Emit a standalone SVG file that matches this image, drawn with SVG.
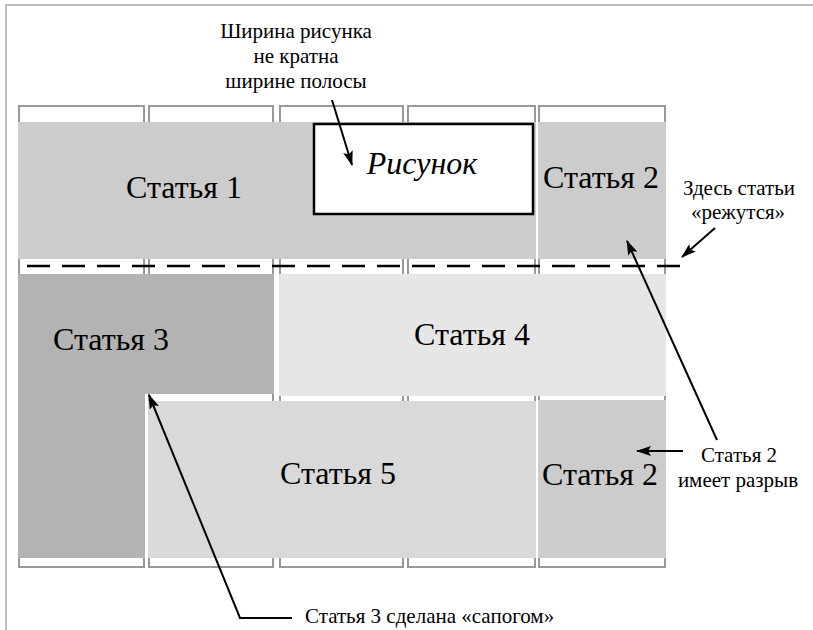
<svg xmlns="http://www.w3.org/2000/svg" width="813" height="630" viewBox="0 0 813 630">
<defs>
<marker id="arr" markerUnits="userSpaceOnUse" markerWidth="15" markerHeight="10" refX="14" refY="5" orient="auto">
<path d="M0,0 L15,5 L0,10 L3,5 Z" fill="#000"/>
</marker>
<style>
.col{fill:#fff;stroke:#999;stroke-width:2}
.lbl{fill:#000;text-anchor:middle}
.big{font-size:32px}
.small{font-size:21px}
.conn{fill:none;stroke:#000;stroke-width:2;marker-end:url(#arr)}
</style>
</defs>
<rect width="813" height="630" fill="#fff"/>
<path d="M6,630 V5 H813" fill="none" stroke="#aaa" stroke-width="1.5"/>
<g id="columns">
<rect class="col" x="19" y="106" width="125" height="461"/>
<rect class="col" x="149" y="106" width="124" height="461"/>
<rect class="col" x="280" y="106" width="123" height="461"/>
<rect class="col" x="408" y="106" width="127" height="461"/>
<rect class="col" x="539" y="106" width="126" height="461"/>
</g>
<g font-family="Liberation Serif">
<g id="article1">
<rect x="18" y="122" width="518" height="137" fill="#ccc"/>
<text class="lbl big" x="184" y="198">Статья 1</text>
</g>
<g id="figure">
<rect x="314" y="124" width="219" height="90" fill="#fff" stroke="#000" stroke-width="2.5"/>
<text class="lbl big" x="422" y="174" font-style="italic">Рисунок</text>
</g>
<g id="article2-top">
<rect x="538" y="122" width="128" height="137" fill="#ccc"/>
<text class="lbl big" x="601" y="188">Статья 2</text>
</g>
<g id="article3">
<path d="M18,274 H274 V394 H145 V558 H18 Z" fill="#b3b3b3"/>
<text class="lbl big" x="111" y="350">Статья 3</text>
</g>
<g id="article4">
<rect x="279" y="274" width="387" height="122" fill="#e6e6e6"/>
<text class="lbl big" x="472" y="345">Статья 4</text>
</g>
<g id="article5">
<rect x="148" y="401" width="388" height="157" fill="#d9d9d9"/>
<text class="lbl big" x="338" y="484">Статья 5</text>
</g>
<g id="article2-bottom">
<rect x="538" y="400" width="128" height="158" fill="#ccc"/>
<text class="lbl big" x="600" y="485">Статья 2</text>
</g>
<g id="cut-line">
<line x1="27" y1="266" x2="685" y2="266" stroke="#000" stroke-width="2.5" stroke-dasharray="23 12"/>
</g>
<g id="note-figure">
<text class="lbl small" x="296" y="38">Ширина рисунка</text>
<text class="lbl small" x="296" y="63">не кратна</text>
<text class="lbl small" x="296" y="88">ширине полосы</text>
</g>
<g id="note-cut">
<text class="lbl small" x="739" y="195">Здесь статьи</text>
<text class="lbl small" x="738" y="219">«режутся»</text>
</g>
<g id="note-break">
<text class="lbl small" x="739" y="462">Статья 2</text>
<text class="lbl small" x="738" y="487">имеет разрыв</text>
</g>
<g id="note-boot">
<text class="small" x="305" y="623" fill="#000">Статья 3 сделана «сапогом»</text>
</g>
</g>
<g id="connectors">
<line class="conn" x1="332" y1="100" x2="352" y2="165"/>
<line class="conn" x1="715" y1="228" x2="682" y2="257"/>
<line class="conn" x1="717" y1="440" x2="627" y2="241"/>
<line class="conn" x1="683" y1="451" x2="637" y2="451"/>
<polyline class="conn" points="292,618 240,618 149,395"/>
</g>
</svg>
